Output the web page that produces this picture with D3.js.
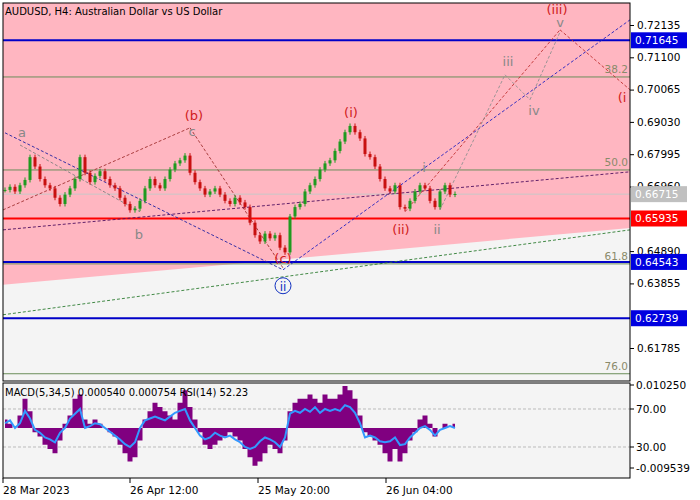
<!DOCTYPE html>
<html><head><meta charset="utf-8">
<script src="https://cdn.jsdelivr.net/npm/d3@7"></script>
<style>body{margin:0;background:#fff}text{font-family:"DejaVu Sans",sans-serif}</style>
</head><body><div id="chart"></div>
<script>
// closes, one per H4 bar group (index 0..90)
var closes = [0.6685,0.6695,0.6680,0.6700,0.6717,0.6790,0.6760,0.6720,0.6700,0.6690,
  0.6660,0.6640,0.6670,0.6690,0.6720,0.6790,0.6740,0.6710,0.6730,0.6745,
  0.6720,0.6700,0.6690,0.6660,0.6640,0.6620,0.6625,0.6650,0.6690,0.6720,
  0.6700,0.6690,0.6720,0.6750,0.6770,0.6780,0.6795,0.6740,0.6710,0.6690,
  0.6670,0.6680,0.6690,0.6670,0.6650,0.6640,0.6660,0.6645,0.6630,0.6580,
  0.6540,0.6520,0.6545,0.6530,0.6540,0.6500,0.6485,0.6600,0.6630,0.6640,
  0.6680,0.6700,0.6720,0.6750,0.6770,0.6780,0.6810,0.6840,0.6870,0.6890,
  0.6870,0.6850,0.6800,0.6790,0.6760,0.6720,0.6690,0.6680,0.6700,0.6630,
  0.6625,0.6650,0.6680,0.6700,0.6690,0.6650,0.6630,0.6680,0.6700,0.6670,0.6672];
var macd = [0.002,0.001,0.000,0.003,0.007,0.004,-0.001,-0.002,-0.004,-0.005,
  -0.006,-0.003,0.001,0.003,0.007,0.008,0.002,0.001,0.002,0.001,
  0.000,-0.001,-0.002,-0.004,-0.006,-0.008,-0.007,-0.003,0.002,0.004,
  0.006,0.005,0.004,0.003,0.002,0.006,0.009,0.005,0.002,-0.001,
  -0.004,-0.005,-0.004,-0.003,-0.002,-0.001,-0.002,-0.003,-0.005,-0.007,
  -0.009,-0.008,-0.006,-0.004,-0.005,-0.006,-0.003,0.004,0.006,0.007,
  0.007,0.008,0.007,0.006,0.008,0.007,0.007,0.008,0.010,0.009,
  0.007,0.003,-0.001,-0.002,-0.003,-0.004,-0.006,-0.008,-0.005,-0.008,
  -0.006,-0.003,-0.001,0.002,0.003,0.001,-0.002,0.000,0.001,0.000,0.001];
var rsi = [55,58,50,55,68,60,48,45,40,38,35,45,50,60,65,70,50,52,55,54,
  50,46,42,38,33,30,35,50,58,60,62,60,58,62,66,68,70,58,50,42,
  38,40,45,42,40,42,38,35,30,28,30,36,40,38,35,30,40,65,68,66,
  70,67,72,66,70,68,70,68,74,72,66,55,40,42,40,36,35,36,40,32,
  33,40,45,50,52,48,42,48,50,52,50];
var priceTicks = [0.72135,0.71100,0.70065,0.69030,0.67995,0.66960,0.64890,0.63855,0.61785];
var timeTicks = [[-0.4,"28 Mar 2023"],[25,"26 Apr 12:00"],[50.6,"25 May 20:00"],[76.2,"26 Jun 04:00"]];
// horizontal levels: price, colour, width
var levels = [[0.71645,"#0000c8",2],[0.7047,"#6b8e5a",1],[0.6749,"#6b8e5a",1],[0.66715,"#c8c8c8",1],
  [0.65935,"#ff0000",2],[0.64543,"#0000c8",2],[0.6448,"#6b8e5a",1],[0.62739,"#0000c8",2],[0.6096,"#6b8e5a",1]];
var fibLabels = [[0.7047,"38.2"],[0.6749,"50.0"],[0.6448,"61.8"],[0.6096,"76.0"]];
var priceBoxes = [[0.71645,"#0000e0","#fff"],[0.66715,"#c0c0c0","#fff"],[0.65935,"#ff0000","#fff"],
  [0.64543,"#0000e0","#fff"],[0.62739,"#0000e0","#fff"]];
// wave lines [i1,p1,i2,p2,colour]
var waveLines = [[0,0.6868,55.6,0.6429,"#2020a0"],[55.6,0.6429,125,0.7230,"#2020c0"],
  [-0.4,0.6557,125,0.6743,"#501060"],[-0.4,0.6621,37,0.6884,"#a03030"],[37,0.6884,55.6,0.6435,"#a03030"],
  [3,0.6829,27,0.6615,"#808080"],[-0.4,0.6285,125,0.6557,"#2e7d32"],
  [80,0.6615,111,0.7198,"#c03030"],[111,0.7198,125,0.7006,"#c03030"],
  [87,0.6621,100,0.7054,"#909090"],[100,0.7054,105,0.6974,"#909090"],[105,0.6974,111,0.7191,"#909090"]];
var waveLabels = [[3.4,0.6855,"a","#888"],[26.8,0.6528,"b","#888"],[37.8,0.6910,"(b)","#d02020"],
  [37.4,0.6858,"c","#888"],[55.6,0.6450,"(c)","#d02020"],[69.2,0.6918,"(i)","#d02020"],
  [79.2,0.6544,"(ii)","#d02020"],[83.8,0.6742,"i","#888"],[86.4,0.6544,"ii","#888"],
  [100.6,0.7081,"iii","#888"],[105.8,0.6925,"iv","#888"],[110.4,0.7249,"(iii)","#d02020"],
  [111,0.7208,"v","#888"],[123.4,0.6968,"(i","#d02020"]];
var pinkEdge = [[-0.4,0.6381],[125,0.6563]];

var W = 700, H = 500, L = 3, R = 630;
var svg = d3.select("#chart").append("svg").attr("width", W).attr("height", H);
var x = d3.scaleLinear().domain([-0.4,125]).range([L,R]);
var y = d3.scaleLinear().domain([0.72135,0.60750]).range([25,380.3]);
var ym = d3.scaleLinear().domain([0.010250,-0.009539]).range([385,468]);
var yr = d3.scaleLinear().domain([70,30]).range([409,447]);

// main panel
svg.append("rect").attr("x",L).attr("y",3).attr("width",R-L).attr("height",378).attr("fill","#f4f4f4");
svg.append("path").attr("fill","#ffb6c1")
  .attr("d","M"+L+",3L"+R+",3L"+x(pinkEdge[1][0])+","+y(pinkEdge[1][1])+"L"+x(pinkEdge[0][0])+","+y(pinkEdge[0][1])+"Z");

levels.forEach(function(d){
  svg.append("line").attr("x1",L).attr("x2",R).attr("y1",y(d[0])).attr("y2",y(d[0]))
    .attr("stroke",d[1]).attr("stroke-width",d[2]);
});
fibLabels.forEach(function(d){
  svg.append("text").attr("x",R-2).attr("y",y(d[0])-4).attr("text-anchor","end")
    .attr("font-size",10.5).attr("fill","#8a8a6a").text(d[1]);
});
waveLines.forEach(function(d){
  svg.append("line").attr("x1",x(d[0])).attr("y1",y(d[1])).attr("x2",x(d[2])).attr("y2",y(d[3]))
    .attr("stroke",d[4]).attr("stroke-dasharray","3,2").attr("stroke-width",0.9);
});

// candles
var bars = closes.map(function(c,i){
  var o = i ? closes[i-1] : c;
  return {i:i,o:o,c:c,h:Math.max(o,c)+0.0008,l:Math.min(o,c)-0.0008};
});
var g = svg.append("g");
g.selectAll("line").data(bars).enter().append("line")
  .attr("x1",function(d){return x(d.i);}).attr("x2",function(d){return x(d.i);})
  .attr("y1",function(d){return y(d.h);}).attr("y2",function(d){return y(d.l);})
  .attr("stroke",function(d){return d.c>=d.o?"#1f9a1f":"#c81010";});
g.selectAll("rect").data(bars).enter().append("rect")
  .attr("x",function(d){return x(d.i)-1.5;}).attr("width",3)
  .attr("y",function(d){return y(Math.max(d.o,d.c));})
  .attr("height",function(d){return Math.max(1,Math.abs(y(d.o)-y(d.c)));})
  .attr("fill",function(d){return d.c>=d.o?"#1f9a1f":"#c81010";});

waveLabels.forEach(function(d){
  svg.append("text").attr("x",x(d[0])).attr("y",y(d[1])).attr("text-anchor","middle")
    .attr("font-size",13).attr("fill",d[3]).text(d[2]);
});
// circled ii
svg.append("circle").attr("cx",x(55.6)).attr("cy",y(0.6378)).attr("r",8)
  .attr("fill","none").attr("stroke","#1030c0");
svg.append("text").attr("x",x(55.6)).attr("y",y(0.6378)+5).attr("text-anchor","middle")
  .attr("font-size",12).attr("fill","#1030c0").text("ii");

svg.append("text").attr("x",5).attr("y",15).attr("font-size",10).attr("fill","#000")
  .text("AUDUSD, H4:  Australian Dollar vs US Dollar");

svg.append("rect").attr("x",L).attr("y",3).attr("width",R-L).attr("height",378)
  .attr("fill","none").attr("stroke","#000");
svg.append("g").attr("transform","translate("+R+",0)")
  .call(d3.axisRight(y).tickValues(priceTicks).tickFormat(d3.format(".5f")).tickSize(4))
  .call(function(a){a.select(".domain").remove();a.selectAll("text").attr("font-size",10.5).attr("fill","#000");});

priceBoxes.forEach(function(d){
  svg.append("rect").attr("x",R+1).attr("y",y(d[0])-8).attr("width",56).attr("height",16).attr("fill",d[1]);
  svg.append("text").attr("x",R+5).attr("y",y(d[0])+4).attr("font-size",10.5).attr("fill",d[2]).text(d[0].toFixed(5));
});

// indicator panel
svg.append("rect").attr("x",L).attr("y",383).attr("width",R-L).attr("height",95).attr("fill","#f4f4f4");
[70,30].forEach(function(v){
  svg.append("line").attr("x1",L).attr("x2",R).attr("y1",yr(v)).attr("y2",yr(v))
    .attr("stroke","#bbb").attr("stroke-dasharray","3,2");
});
svg.append("path").datum(macd).attr("fill","#800080")
  .attr("d",d3.area().x(function(d,i){return x(i);}).y0(ym(0)).y1(function(d){return ym(d);}).curve(d3.curveStep));
svg.append("path").datum(rsi).attr("fill","none").attr("stroke","#3399ff").attr("stroke-width",2)
  .attr("d",d3.line().x(function(d,i){return x(i);}).y(function(d){return yr(d);}));
svg.append("rect").attr("x",L).attr("y",383).attr("width",R-L).attr("height",95)
  .attr("fill","none").attr("stroke","#000");
svg.append("text").attr("x",5).attr("y",396).attr("font-size",10).text("MACD(5,34,5) 0.000540 0.000754 RSI(14) 52.23");
[[ym(0.010250),"0.010250"],[yr(70),"70.00"],[yr(30),"30.00"],[ym(-0.009539),"-0.009539"]].forEach(function(d){
  svg.append("line").attr("x1",R).attr("x2",R+4).attr("y1",d[0]).attr("y2",d[0]).attr("stroke","#000");
  svg.append("text").attr("x",R+6).attr("y",d[0]+4).attr("font-size",10.5).text(d[1]);
});

// time axis
timeTicks.forEach(function(d){
  svg.append("line").attr("x1",x(d[0])).attr("x2",x(d[0])).attr("y1",478).attr("y2",483).attr("stroke","#000");
  svg.append("text").attr("x",x(d[0])).attr("y",494).attr("font-size",10.5).text(d[1]);
});
</script></body></html>
